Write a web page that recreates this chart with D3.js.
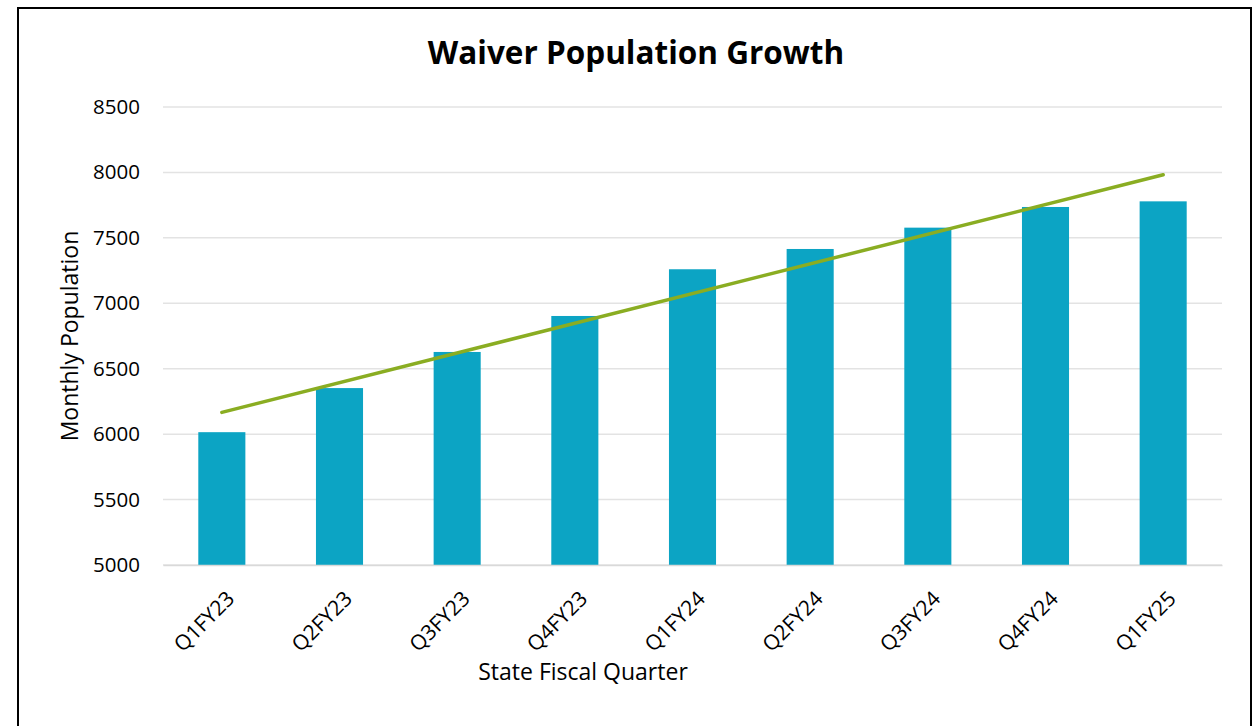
<!DOCTYPE html>
<html>
<head>
<meta charset="utf-8">
<script src="https://cdn.jsdelivr.net/npm/d3@7"></script>
<style>
  html, body { margin: 0; padding: 0; background: #fff; }
  svg { display: block; }
  text { font-family: "Open Sans", "Noto Sans", sans-serif; fill: #000; }
</style>
</head>
<body>
<svg id="chart" width="1256" height="726"></svg>
<script>
const categories = ["Q1FY23","Q2FY23","Q3FY23","Q4FY23","Q1FY24","Q2FY24","Q3FY24","Q4FY24","Q1FY25"];
const population = [6015, 6352, 6628, 6903, 7260, 7415, 7578, 7736, 7779];
const yTicks = [5000, 5500, 6000, 6500, 7000, 7500, 8000, 8500];
const titleText = "Waiver Population Growth";
const xTitle = "State Fiscal Quarter";
const yTitle = "Monthly Population";

const svg = d3.select("#chart");
const m = { left: 163, right: 1222, top: 107, bottom: 565 };

svg.append("rect").attr("x", 18).attr("y", 8).attr("width", 1233).attr("height", 730)
  .attr("fill", "#fff").attr("stroke", "#000").attr("stroke-width", 2);

const x = d3.scaleBand().domain(categories).range([m.left, m.right]).paddingInner(0.6).paddingOuter(0.3);
const y = d3.scaleLinear().domain([5000, 8500]).range([m.bottom, m.top]);

// gridlines
svg.append("g").selectAll("line").data(yTicks).join("line")
  .attr("x1", m.left).attr("x2", m.right)
  .attr("y1", d => y(d)).attr("y2", d => y(d))
  .attr("stroke", "#e3e3e3").attr("stroke-width", 1.5);

// y axis labels
const yAxis = d3.axisLeft(y).tickValues(yTicks).tickSize(0).tickPadding(0).tickFormat(d3.format("d"));
const yg = svg.append("g").attr("transform", `translate(${m.left - 23},0)`).call(yAxis);
yg.select(".domain").remove();
yg.selectAll("text").style("font-family", '"Open Sans", sans-serif').style("font-size", "20.5px").attr("fill", "#000");

// bars
svg.append("g").selectAll("rect").data(population).join("rect")
  .attr("x", (d, i) => x(categories[i]))
  .attr("width", x.bandwidth())
  .attr("y", d => y(d))
  .attr("height", d => y(5000) - y(d))
  .attr("fill", "#0ca4c4");

// x axis
const xAxis = d3.axisBottom(x).tickSize(0).tickPadding(0);
const xg = svg.append("g").attr("transform", `translate(0,${m.bottom})`).call(xAxis);
xg.select(".domain").attr("stroke", "#d9d9d9").attr("stroke-width", 1.5);
xg.selectAll("text")
  .style("font-family", '"Open Sans", sans-serif').style("font-size", "21px").attr("fill", "#000")
  .attr("text-anchor", "end").attr("dy", null)
  .attr("transform", "translate(14,35) rotate(-45)");

// linear trendline (least squares of the bar values)
const n = population.length;
const xs = d3.range(1, n + 1);
const mx = d3.mean(xs), my = d3.mean(population);
const slope = d3.sum(xs, (xi, i) => (xi - mx) * (population[i] - my)) / d3.sum(xs, xi => (xi - mx) ** 2);
const intercept = my - slope * mx;
const trend = [0, n - 1].map(i => ({ c: categories[i], v: intercept + slope * (i + 1) }));
svg.append("path").datum(trend)
  .attr("d", d3.line().x(d => x(d.c) + x.bandwidth() / 2).y(d => y(d.v)))
  .attr("fill", "none").attr("stroke", "#8aad22").attr("stroke-width", 3.5).attr("stroke-linecap", "round");

// titles
svg.append("text").attr("x", 636).attr("y", 64).attr("text-anchor", "middle")
  .style("font-size", "31.5px").style("font-weight", "bold").text(titleText);
svg.append("text").attr("x", 583).attr("y", 680).attr("text-anchor", "middle")
  .style("font-size", "23px").text(xTitle);
svg.append("text").attr("transform", "translate(78,336) rotate(-90)").attr("text-anchor", "middle")
  .style("font-size", "23px").text(yTitle);
</script>
</body>
</html>
